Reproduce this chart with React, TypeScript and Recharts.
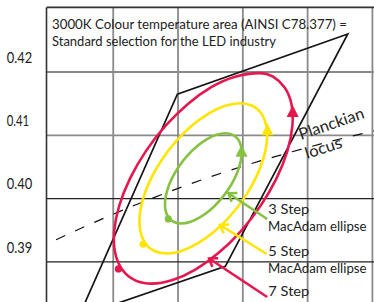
import React from 'react';
import { ComposedChart, XAxis, YAxis, Line, Scatter, ReferenceLine } from 'recharts';

// ---- axes ----
const yTicks = [0.39, 0.4, 0.41, 0.42];
const xGridGray = [0.42, 0.43, 0.44, 0.45, 0.46];
const yGridGray = [0.42, 0.41];
const yGridBlack = [0.4, 0.39];
const xDomain: [number, number] = [0.4097, 0.4604];
const yDomain: [number, number] = [0.38, 0.4302];

// ---- ANSI C78.377 3000K quadrangle ----
const quadrangle = [
  [0.4562, 0.426],
  [0.4299, 0.4165],
  [0.4147, 0.3814],
  [0.4373, 0.3893],
];

// ---- Planckian locus (3500K .. 2500K) ----
const planckian = [
  [0.4053, 0.3907],
  [0.4234, 0.399],
  [0.4369, 0.4041],
  [0.4476, 0.4074],
  [0.4599, 0.4106],
  [0.477, 0.4137],
];

// ---- MacAdam ellipses (outline points) ----
const ellipse7 = [
  [0.44293, 0.42002], [0.44462, 0.41944], [0.44657, 0.41776], [0.44766, 0.41509],
  [0.44781, 0.41161], [0.44702, 0.40755], [0.44533, 0.4032], [0.44286, 0.39885],
  [0.43978, 0.39479], [0.4363, 0.39131], [0.43266, 0.38864], [0.4291, 0.38696],
  [0.42587, 0.38638], [0.42319, 0.38696], [0.42123, 0.38864], [0.42014, 0.39131],
  [0.41999, 0.39479], [0.42078, 0.39885], [0.42247, 0.4032], [0.42494, 0.40755],
  [0.42802, 0.41161], [0.4315, 0.41509], [0.43514, 0.41776], [0.4387, 0.41944],
];
const ellipse5 = [
  [0.43964, 0.41521], [0.44155, 0.4148], [0.44295, 0.4136], [0.44373, 0.41169],
  [0.44384, 0.40921], [0.44327, 0.40631], [0.44206, 0.4032], [0.4403, 0.40009],
  [0.4381, 0.39719], [0.43562, 0.39471], [0.43301, 0.3928], [0.43047, 0.3916],
  [0.42816, 0.39119], [0.42625, 0.3916], [0.42485, 0.3928], [0.42407, 0.39471],
  [0.42396, 0.39719], [0.42453, 0.40009], [0.42574, 0.4032], [0.4275, 0.40631],
  [0.4297, 0.40921], [0.43218, 0.41169], [0.43479, 0.4136], [0.43733, 0.4148],
];
const ellipse3 = [
  [0.43734, 0.41041], [0.43849, 0.41016], [0.43933, 0.40944], [0.4398, 0.4083],
  [0.43986, 0.4068], [0.43952, 0.40507], [0.4388, 0.4032], [0.43774, 0.40134],
  [0.43642, 0.3996], [0.43493, 0.3981], [0.43337, 0.39696], [0.43184, 0.39624],
  [0.43046, 0.39599], [0.42931, 0.39624], [0.42847, 0.39696], [0.428, 0.3981],
  [0.42794, 0.3996], [0.42828, 0.40134], [0.429, 0.4032], [0.43006, 0.40507],
  [0.43138, 0.4068], [0.43287, 0.4083], [0.43443, 0.40944], [0.43596, 0.41016],
];

// markers, order: 7 step, 5 step, 3 step
const startDots = [
  [0.4208, 0.3889],
  [0.4246, 0.3928],
  [0.4285, 0.3968],
];
const arrowHeads = [
  [0.4477, 0.4137],
  [0.4438, 0.4108],
  [0.4398, 0.4074],
];
// leader lines: [tip, label end]
const leaders = [
  [[0.4348, 0.39055], [0.44376, 0.38447]],
  [[0.4365, 0.39584], [0.44368, 0.39126]],
  [[0.43778, 0.40085], [0.44376, 0.39679]],
];
const stepLabels = ['7 Step', '5 Step', '3 Step'];
const ellipseLabel = 'MacAdam ellipse';
const titleLines = [
  '3000K Colour temperature area (AINSI C78.377) =',
  'Standard selection for the LED industry',
];
const locusLabel = ['Planckian', 'locus'];

const COLORS = ['#E5174F', '#FFE500', '#86C241'];
const FONT = "Lato, 'Liberation Sans', Arial, sans-serif";

const pts = (a: number[][]) => a.map(([x, y]) => ({ x, y }));
const ellipses = [ellipse7, ellipse5, ellipse3];

const YTick = (props: any) => {
  const { y, payload } = props;
  const label = Number(payload.value).toFixed(2);
  return (
    <text
      x={6.7}
      y={y - 9.3}
      fontSize={16}
      fontFamily={FONT}
      fill="#222"
      textLength={label.includes('1') ? 22.5 : 25.5}
      lengthAdjust="spacingAndGlyphs"
    >
      {label}
    </text>
  );
};

const makeTriangle = (color: string) => (props: any) => {
  const { cx, cy } = props;
  return (
    <polygon
      points={`${cx},${cy - 7} ${cx - 6},${cy + 5} ${cx + 6},${cy + 5}`}
      fill={color}
    />
  );
};
const makeDot = (color: string) => (props: any) => {
  const { cx, cy } = props;
  return <circle cx={cx} cy={cy} r={3.6} fill={color} />;
};

const makeChevron = (color: string) => (props: any) => {
  const { cx, cy, index, points } = props;
  if (index !== 0) return <g key={`c-${index}`} />;
  let ang = Math.atan2(25, 40);
  if (points && points.length > 1) {
    ang = Math.atan2(points[1].y - cy, points[1].x - cx);
  }
  const len = 9;
  const s = 0.62;
  const a1 = ang + s;
  const a2 = ang - s;
  return (
    <path
      key={`c-${index}`}
      d={`M${cx + len * Math.cos(a1)},${cy + len * Math.sin(a1)} L${cx},${cy} L${cx + len * Math.cos(a2)},${cy + len * Math.sin(a2)}`}
      stroke={color}
      strokeWidth={2.6}
      fill="none"
    />
  );
};

const labelTexts = [
  { t: stepLabels[2], x: 268.3, y: 214, w: 41 },
  { t: ellipseLabel, x: 268, y: 231, w: 98.5 },
  { t: stepLabels[1], x: 268.3, y: 255.5, w: 41 },
  { t: ellipseLabel, x: 268, y: 273.3, w: 98.5 },
  { t: stepLabels[0], x: 268.3, y: 295.7, w: 41 },
];

export default function App() {
  return (
    <div
      style={{
        position: 'fixed',
        left: 0,
        top: 0,
        width: 374,
        height: 302,
        overflow: 'hidden',
        background: '#fff',
      }}
    >
      <ComposedChart width={375} height={325.3} margin={{ top: 7.4, right: 0, bottom: 0, left: 0 }}>
        <XAxis type="number" dataKey="x" domain={xDomain} hide allowDataOverflow />
        <YAxis
          type="number"
          dataKey="y"
          domain={yDomain}
          ticks={yTicks}
          interval={0}
          width={46.5}
          axisLine={false}
          tickLine={false}
          tick={<YTick />}
          allowDataOverflow
        />
        {xGridGray.map((v) => (
          <ReferenceLine key={`vx${v}`} x={v} stroke="#8a8a8a" strokeWidth={1.8} />
        ))}
        {yGridGray.map((v) => (
          <ReferenceLine key={`hy${v}`} y={v} stroke="#8a8a8a" strokeWidth={1.8} />
        ))}
        {yGridBlack.map((v) => (
          <ReferenceLine key={`hb${v}`} y={v} stroke="#222" strokeWidth={1.2} />
        ))}
        <ReferenceLine x={xDomain[0]} stroke="#333" strokeWidth={1.6} />
        <ReferenceLine y={yDomain[1]} stroke="#333" strokeWidth={1.6} />

        <Line
          data={pts(planckian)}
          dataKey="y"
          type="monotone"
          stroke="#111"
          strokeWidth={1.2}
          strokeDasharray="10 11"
          dot={false}
          activeDot={false}
          isAnimationActive={false}
        />
        <Line
          data={pts(quadrangle)}
          dataKey="y"
          type="linearClosed"
          stroke="#151515"
          strokeWidth={1.7}
          dot={false}
          activeDot={false}
          isAnimationActive={false}
        />
        {ellipses.map((e, i) => (
          <Line
            key={`el${i}`}
            data={pts(e)}
            dataKey="y"
            type="basisClosed"
            stroke={COLORS[i]}
            strokeWidth={2.6}
            dot={false}
            activeDot={false}
            isAnimationActive={false}
          />
        ))}
        {leaders.map((l, i) => (
          <Line
            key={`ld${i}`}
            data={pts(l)}
            dataKey="y"
            type="linear"
            stroke={COLORS[i]}
            strokeWidth={2.6}
            dot={makeChevron(COLORS[i])}
            activeDot={false}
            isAnimationActive={false}
          />
        ))}
        {startDots.map((d, i) => (
          <Scatter
            key={`sd${i}`}
            data={pts([d])}
            dataKey="y"
            shape={makeDot(COLORS[i])}
            isAnimationActive={false}
          />
        ))}
        {arrowHeads.map((d, i) => (
          <Scatter
            key={`ah${i}`}
            data={pts([d])}
            dataKey="y"
            shape={makeTriangle(COLORS[i])}
            isAnimationActive={false}
          />
        ))}
      </ComposedChart>
      <svg
        width={374}
        height={302}
        style={{ position: 'absolute', left: 0, top: 0, pointerEvents: 'none' }}
      >
        <text x={52} y={28.5} fontSize={14} fontFamily={FONT} fill="#222" textLength={295} lengthAdjust="spacingAndGlyphs">
          {titleLines[0]}
        </text>
        <text x={52} y={45.5} fontSize={14} fontFamily={FONT} fill="#222" textLength={224} lengthAdjust="spacingAndGlyphs">
          {titleLines[1]}
        </text>
        {labelTexts.map((l, i) => (
          <text key={i} x={l.x} y={l.y} fontSize={13.5} fontFamily={FONT} fill="#222" textLength={l.w} lengthAdjust="spacingAndGlyphs">
            {l.t}
          </text>
        ))}
        <text transform="translate(301,140) rotate(-19)" fontSize={16} fontFamily={FONT} fill="#222" textLength={68} lengthAdjust="spacingAndGlyphs">
          {locusLabel[0]}
        </text>
        <text transform="translate(307,159) rotate(-18)" fontSize={16} fontFamily={FONT} fill="#222" textLength={38} lengthAdjust="spacingAndGlyphs">
          {locusLabel[1]}
        </text>
      </svg>
    </div>
  );
}
